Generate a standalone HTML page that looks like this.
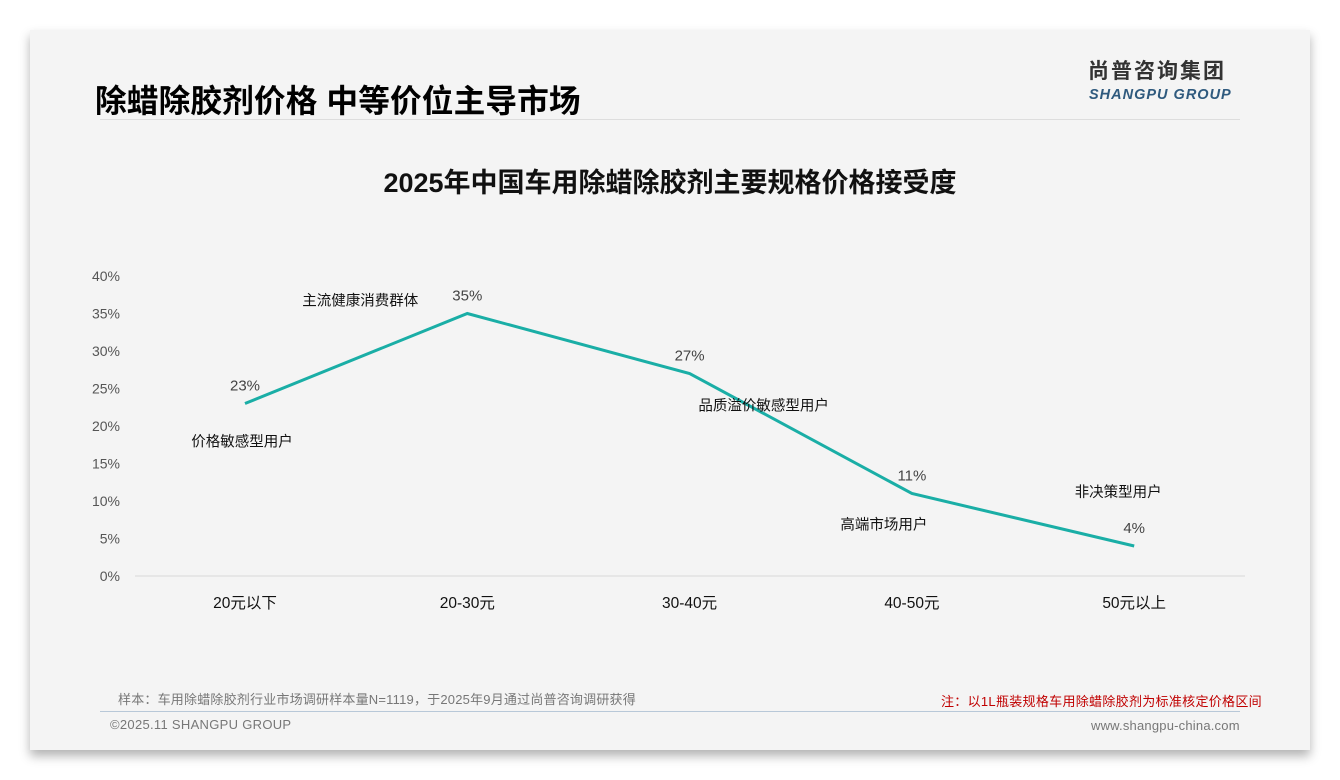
<!DOCTYPE html>
<html><head><meta charset="utf-8"><style>
body{margin:0;width:1340px;height:780px;background:#fff;font-family:"Liberation Sans","Noto Sans CJK SC",sans-serif;position:relative;overflow:hidden}
#card{position:absolute;left:30px;top:30px;width:1280px;height:720px;background:#f4f4f4;box-shadow:0 6px 10px rgba(0,0,0,.3)}
.t{position:absolute;white-space:nowrap}
</style></head><body>
<div id="card"></div>
<div class="t" style="left:95px;top:76px;font-size:31.7px;font-weight:bold;color:#000;letter-spacing:0.1px">除蜡除胶剂价格 中等价位主导市场</div>
<div class="t" style="left:1088px;top:58px;font-size:21px;line-height:28px;font-weight:bold;color:#333;letter-spacing:2px">尚普咨询集团</div>
<div class="t" style="left:1089px;top:87px;font-size:14.5px;line-height:17px;font-weight:bold;font-style:italic;color:#2f5a7e;letter-spacing:1px">SHANGPU GROUP</div>
<div style="position:absolute;left:100px;top:119px;width:1140px;height:1px;background:#ddd"></div>
<div class="t" style="left:0;width:1340px;text-align:center;top:161px;font-size:27px;font-weight:bold;color:#111">2025年中国车用除蜡除胶剂主要规格价格接受度</div>
<svg id="chart" width="1340" height="780" style="position:absolute;left:0;top:0"></svg>
<div class="t" style="left:118px;top:689px;font-size:13px;color:#777;letter-spacing:0.2px">样本：车用除蜡除胶剂行业市场调研样本量N=1119，于2025年9月通过尚普咨询调研获得</div>
<div class="t" style="left:941px;top:691px;font-size:13px;color:#c00000;letter-spacing:0.3px">注：以1L瓶装规格车用除蜡除胶剂为标准核定价格区间</div>
<div style="position:absolute;left:100px;top:711px;width:1140px;height:1px;background:#b8c8d8"></div>
<div class="t" style="left:110px;top:717px;font-size:13px;color:#777;letter-spacing:0.3px">©2025.11 SHANGPU GROUP</div>
<div class="t" style="left:1091px;top:718px;font-size:13px;color:#777;letter-spacing:0.2px">www.shangpu-china.com</div>
<script>
const categories=["20元以下","20-30元","30-40元","40-50元","50元以上"];
const values=[23,35,27,11,4];
const segments=["价格敏感型用户","主流健康消费群体","品质溢价敏感型用户","高端市场用户","非决策型用户"];
const segOffsets=[[-3,38],[-107,-13],[74,32],[-28,31],[-16,-54]];
const yTicks=[0,5,10,15,20,25,30,35,40];
const svg=document.getElementById('chart');
const NS='http://www.w3.org/2000/svg';
const x0=245,dx=222.3,y0=576,yMax=40,yTop=276;
const xs=i=>x0+i*dx;
const ys=v=>y0-(v/yMax)*(y0-yTop);
function mk(tag,attrs,txt){const e=document.createElementNS(NS,tag);for(const k in attrs)e.setAttribute(k,attrs[k]);if(txt!==undefined)e.textContent=txt;svg.appendChild(e);return e;}
yTicks.forEach(v=>{const e=mk('text',{x:120,y:ys(v)+5,'text-anchor':'end','font-size':14,fill:'#555'},v+'%');

});
const ax=mk('line',{x1:135,x2:1245,y1:y0,y2:y0,stroke:'#d9d9d9','stroke-width':1});


categories.forEach((c,i)=>{const e=mk('text',{x:xs(i),y:608,'text-anchor':'middle','font-size':15.5,fill:'#111'},c);

});
const ln=mk('polyline',{points:values.map((v,i)=>xs(i)+','+ys(v)).join(' '),fill:'none',stroke:'#1aaea6','stroke-width':3});


values.forEach((v,i)=>{const e=mk('text',{x:xs(i),y:ys(v)-13,'text-anchor':'middle','font-size':15,fill:'#444'},v+'%');


const s=mk('text',{x:xs(i)+segOffsets[i][0],y:ys(v)+segOffsets[i][1]+5,'text-anchor':'middle','font-size':14.5,fill:'#111'},segments[i]);

});
</script>
</body></html>
